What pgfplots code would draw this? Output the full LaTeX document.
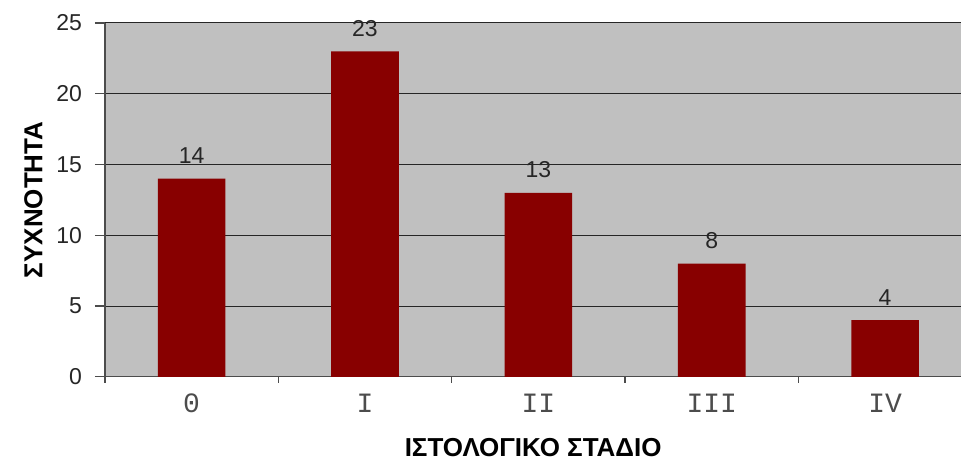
\documentclass[border=0pt]{standalone}
\usepackage{pgfplots}
\pgfplotsset{compat=1.18}
\usepackage{fontspec}
\setmainfont{Liberation Sans}
\newfontfamily\monofont{Liberation Mono}
\definecolor{plotbg}{RGB}{192,192,192}
\definecolor{barred}{RGB}{136,0,0}
\begin{document}
\begin{tikzpicture}
\begin{axis}[
  /pgf/number format/assume math mode=true,
  scale only axis,
  width=428.5pt, height=177pt,
  xmin=-0.5, xmax=4.44,
  ymin=0, ymax=25,
  axis background/.style={fill=plotbg},
  axis x line*=bottom, axis y line*=left,
  axis line style={draw=black!70, line width=0.6pt, -},
  ytick={0,5,10,15,20,25},
  ymajorgrids,
  major grid style={draw=black!85, line width=0.5pt},
  ytick style={draw=black!70, line width=0.6pt},
  tick align=outside,
  major tick length=5pt,
  xtick={0,1,2,3,4},
  xticklabels={0,I,II,III,IV},
  xtick style={draw=none},
  extra x ticks={-0.5,0.5,1.5,2.5,3.5},
  extra x tick labels={},
  extra x tick style={xtick style={draw=black!70, line width=0.6pt}, major tick length=3pt, grid=none},
  xticklabel style={font=\monofont\fontsize{14}{16}\selectfont, color=black!70, yshift=0pt},
  yticklabel style={font=\fontsize{11.5}{13}\selectfont, color=black!85, xshift=-3pt},
  xlabel={\bfseries ΙΣΤΟΛΟΓΙΚΟ ΣΤΑΔΙΟ},
  ylabel={\bfseries ΣΥΧΝΟΤΗΤΑ},
  xlabel style={font=\fontsize{13}{15}\selectfont, yshift=2pt},
  ylabel style={font=\fontsize{13}{15}\selectfont, yshift=0pt},
  nodes near coords,
  every node near coord/.append style={font=\fontsize{11.5}{13}\selectfont, color=black!85, yshift=4pt},
  clip=false,
]
\addplot[ybar, bar width=0.39, fill=barred, draw=none] coordinates {(0,14) (1,23) (2,13) (3,8) (4,4)};
\end{axis}
\path (current axis.south west) ++(-52.5pt,-39.5pt) (current axis.north east) ++(0,11.5pt);
\end{tikzpicture}
\end{document}
